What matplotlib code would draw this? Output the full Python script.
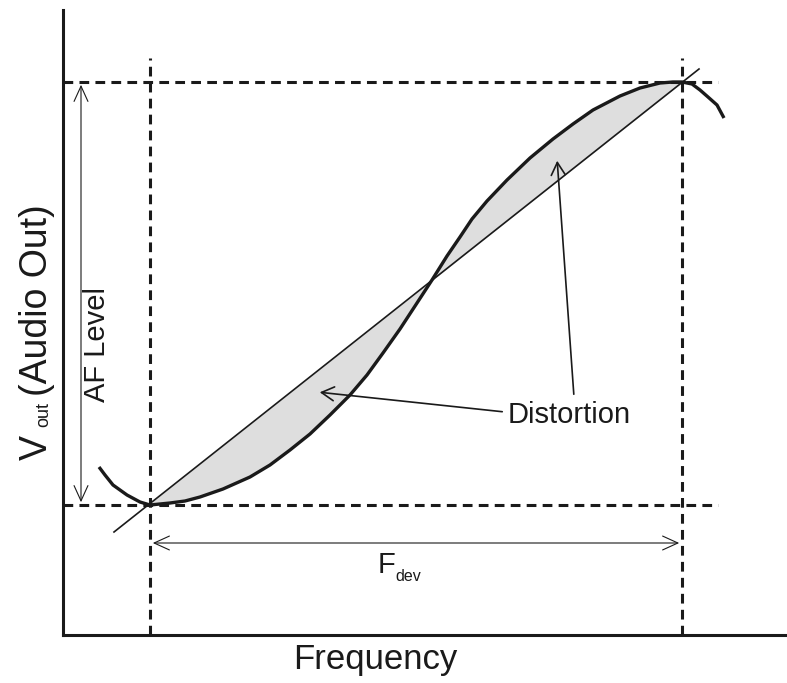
import numpy as np
import matplotlib.pyplot as plt
from matplotlib.patches import FancyArrowPatch

plt.rcParams['font.family'] = ['Liberation Sans', 'DejaVu Sans']
plt.rcParams['lines.scale_dashes'] = False

# frequency deviation limits and audio output levels (chart units)
f_dev = [87, 619]
af_level = [130, 553]

# discriminator response curve
curve_x = [36, 42, 50, 64, 77, 87, 107, 122, 137, 160, 187, 207, 227, 247, 267, 287,
           304, 320, 337, 354, 369, 384, 397, 409, 424, 444, 467, 490, 510, 530,
           557, 577, 597, 610, 619, 629, 637, 645, 654, 661]
curve_y = [168, 160, 150, 140, 133, 130, 132, 134, 138, 146, 158, 170, 185, 201, 220, 240,
           260, 282, 306, 332, 355, 379, 398, 416, 434, 455, 477, 496, 511, 525,
           539, 547, 552, 553, 553, 551, 545, 538, 530, 517]

# ideal linear response
line_x = [51, 636]
line_y = [103, 566]

fig = plt.figure(figsize=(7.87, 6.83), dpi=100)
ax = fig.add_axes([63/787, 48/683, 724/787, 625/683])
ax.set_xlim(0, 724)
ax.set_ylim(0, 625)
ax.set_xticks([])
ax.set_yticks([])
for s in ['top', 'right']:
    ax.spines[s].set_visible(False)
for s in ['left', 'bottom']:
    ax.spines[s].set_linewidth(2.2)
    ax.spines[s].set_color('#1a1a1a')

ink = '#1a1a1a'

# shaded distortion area between curve and straight line
cx = np.array(curve_x)
cy = np.array(curve_y)
inside = (cx >= f_dev[0]) & (cx <= f_dev[1])
lin = np.interp(cx[inside], line_x, line_y)
ax.fill_between(cx[inside], cy[inside], lin, color='#dedede', lw=0)

# dashed guides
dash = (0, (7, 4.5))
for x in f_dev:
    ax.plot([x, x], [0, 577], color=ink, lw=2.2, linestyle=dash)
for y in af_level:
    ax.plot([0, 655], [y, y], color=ink, lw=2.2, linestyle=dash)

ax.plot(line_x, line_y, color=ink, lw=1.2)
ax.plot(curve_x, curve_y, color=ink, lw=2.4, solid_joinstyle='round',
        solid_capstyle='butt')

# dimension arrows
ax.add_patch(FancyArrowPatch((18, af_level[0]), (18, af_level[1]),
                             arrowstyle='<->,head_length=11,head_width=5',
                             mutation_scale=1, color=ink, lw=0.8))
ax.add_patch(FancyArrowPatch((f_dev[0], 92), (f_dev[1], 92),
                             arrowstyle='<->,head_length=11,head_width=5',
                             mutation_scale=1, color=ink, lw=0.8))

# distortion callouts
ax.add_patch(FancyArrowPatch((442, 223), (254, 243),
                             arrowstyle='->,head_length=9,head_width=5',
                             mutation_scale=1, color=ink, lw=1.2))
ax.add_patch(FancyArrowPatch((511, 238), (494, 477),
                             arrowstyle='->,head_length=9,head_width=5',
                             mutation_scale=1, color=ink, lw=1.2))
ax.text(445, 220, 'Distortion', fontsize=21, ha='left', va='center', color=ink)

ax.text(34, 290, 'AF Level', fontsize=21, rotation=90, ha='center', va='center',
        color=ink)

ax.text(315, 62, 'F', fontsize=21, ha='left', va='baseline', color=ink)
ax.text(332, 54, 'dev', fontsize=11.5, ha='left', va='baseline', color=ink)

ax.text(312, -25, 'Frequency', fontsize=25, ha='center', va='center', color=ink)

# y label: V_out (Audio Out)
ax.text(-16, 175, 'V', fontsize=27, rotation=90, rotation_mode='anchor',
        ha='left', va='baseline', color=ink)
ax.text(-15, 208, 'out', fontsize=13, rotation=90, rotation_mode='anchor',
        ha='left', va='baseline', color=ink)
ax.text(-16, 239, '(Audio Out)', fontsize=27, rotation=90, rotation_mode='anchor',
        ha='left', va='baseline', color=ink)

plt.savefig('out.png', dpi=100)
